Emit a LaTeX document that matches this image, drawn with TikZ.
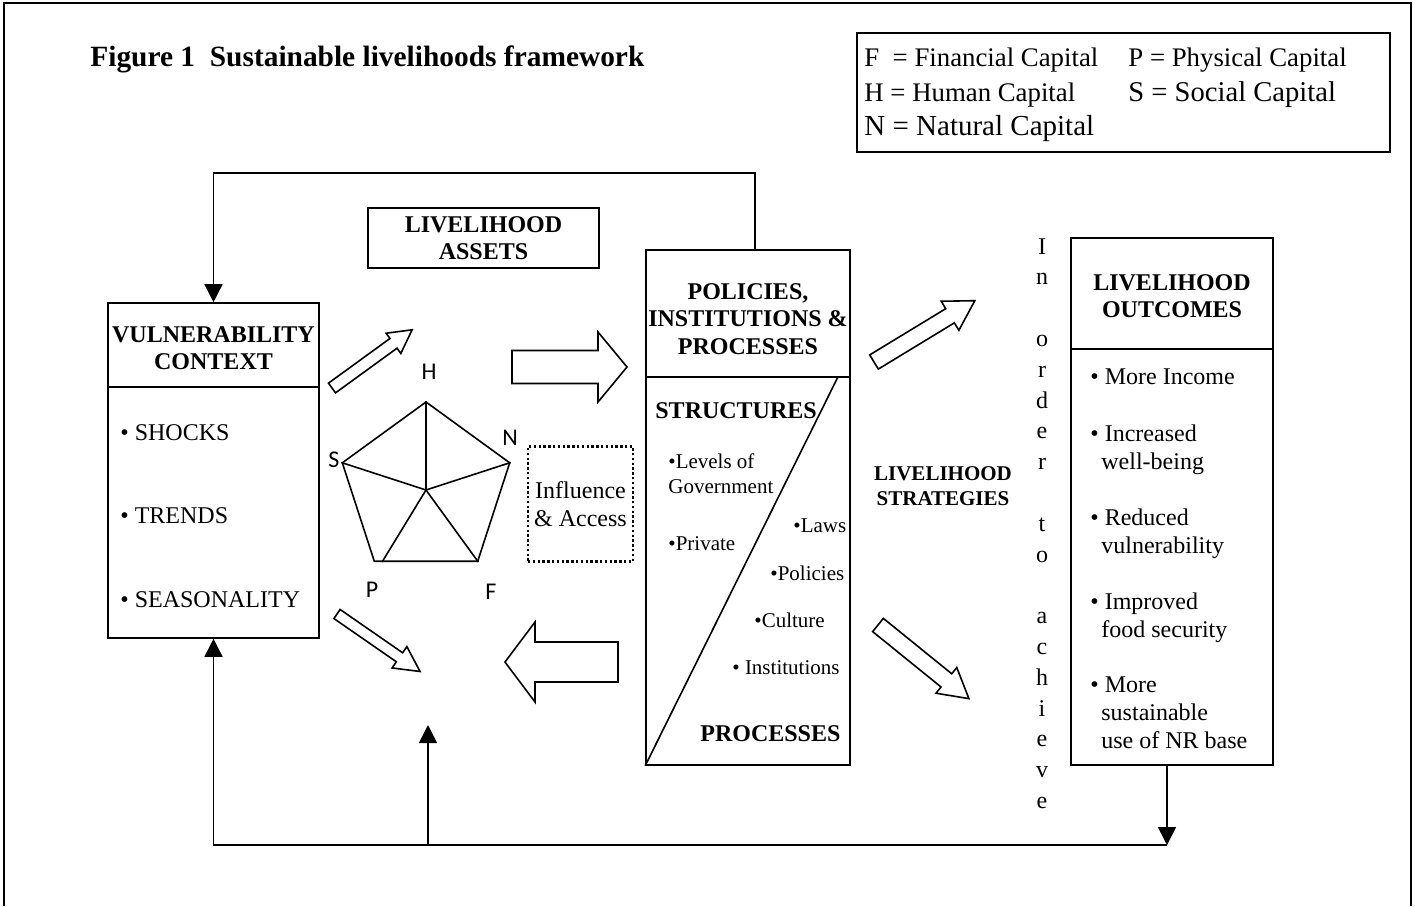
\documentclass[tikz,border=0pt]{standalone}
\usepackage{fontspec}
\setmainfont{Liberation Serif}
\setsansfont{Carlito}
\usetikzlibrary{shapes.geometric,arrows.meta,calc}
% hollow block arrow: tail, angle, length, half shaft, half head, head length
\newcommand{\fatarrow}[6]{%
  \draw[hollow,shift={#1},rotate=#2] (0,-#4) -- ({#3-#6},-#4) -- ({#3-#6},-#5)
    -- (#3,0) -- ({#3-#6},#5) -- ({#3-#6},#4) -- (0,#4) -- cycle;}
\tikzset{
  wire/.style={line width=0.8pt},
  flow/.style={wire,-{Triangle[length=9pt,width=9pt]}},
  box/.style={draw,line width=0.8pt,inner sep=0pt},
  hollow/.style={wire,fill=white,line join=miter},
  hdr/.style={font=\bfseries\fontsize{12}{13.8}\selectfont,align=center,inner sep=0pt},
  txt/.style={font=\fontsize{12}{14}\selectfont,align=left,inner sep=0pt},
  smalltxt/.style={font=\fontsize{10.5}{12.5}\selectfont,align=left,inner sep=0pt},
  legendtxt/.style={font=\fontsize{13.4}{16}\selectfont,anchor=base west,inner sep=0pt},
  asset/.style={font=\sffamily\fontsize{12}{14}\selectfont,inner sep=0pt}
}
\begin{document}
\begin{tikzpicture}[x=0.5pt,y=-0.5pt]
\useasboundingbox (0,0) rectangle (1415,906);
\draw[wire] (4,906) -- (4,3) -- (1411,3) -- (1411,906);

% title and key
\node[anchor=base west,inner sep=0pt,font=\bfseries\fontsize{14.7}{17}\selectfont] (title) at (90,66) {Figure 1\ \ Sustainable livelihoods framework};
\node[box,minimum width=266.5pt,minimum height=59.5pt] (legend) at (1123.5,92.5) {};
\node[legendtxt] (keyF) at (864,66) {F~ = Financial Capital};
\node[legendtxt] (keyP) at (1128,66) {P = Physical Capital};
\node[legendtxt] (keyH) at (864,101) {H = Human Capital};
\node[legendtxt,font=\fontsize{14.3}{16}\selectfont] (keyS) at (1128,101) {S = Social Capital};
\node[legendtxt,font=\fontsize{14.5}{16}\selectfont] (keyN) at (864,135) {N = Natural Capital};

% vulnerability context
\node[box,minimum width=105.5pt,minimum height=167.5pt] (vuln) at (213.5,470.5) {};
\draw[wire] ([yshift=-42.5pt]vuln.north west) -- ([yshift=-42.5pt]vuln.north east);
\node[hdr] (vulnhdr) at (213.5,348) {VULNERABILITY\\CONTEXT};
\node[txt,anchor=base west] (shocks) at (120,440) {\textbullet\ SHOCKS};
\node[txt,anchor=base west] (trends) at (120,523) {\textbullet\ TRENDS};
\node[txt,anchor=base west] (season) at (120,607) {\textbullet\ SEASONALITY};

% livelihood assets
\node[box,hdr,minimum width=115.5pt,minimum height=30pt] (assets) at (483.5,238) {LIVELIHOOD\\ASSETS};
\node[regular polygon,regular polygon sides=5,draw,line width=0.8pt,inner sep=0pt,minimum size=88pt] (pent) at (426,490) {};
\foreach \c in {1,2,4,5}
  \draw[wire] (pent.center) -- (pent.corner \c);
\draw[wire] (pent.center) -- ($(pent.corner 3)!0.08!(pent.corner 4)$);
\node[asset] (labH) at (429,372) {H};
\node[asset] (labS) at (334,460) {S};
\node[asset] (labN) at (510,438) {N};
\node[asset] (labP) at (372,590) {P};
\node[asset] (labF) at (491,592) {F};
\node[draw,line width=1.1pt,dash pattern=on 1.2pt off 1.2pt,txt,align=center,minimum width=52.5pt,minimum height=57.5pt] (influence) at (580.5,504) {Influence\\\& Access};

% policies, institutions and processes
\node[box,minimum width=102pt,minimum height=257.5pt] (pip) at (748,507.5) {};
\draw[wire] ([yshift=-64pt]pip.north west) -- ([yshift=-64pt]pip.north east);
\draw[wire] ([yshift=-64pt,xshift=-6.5pt]pip.north east) -- (pip.south west);
\node[hdr] (piphdr) at (748,319) {POLICIES,\\INSTITUTIONS \&\\PROCESSES};
\node[hdr,anchor=base west] (structures) at (655,418) {STRUCTURES};
\node[smalltxt,anchor=north west] (levels) at (668,453) {\textbullet Levels of\\Government};
\node[smalltxt,anchor=base west] (private) at (668,550) {\textbullet Private};
\node[smalltxt,anchor=base west] (laws) at (793,532) {\textbullet Laws};
\node[smalltxt,anchor=base west] (policies) at (770,580) {\textbullet Policies};
\node[smalltxt,anchor=base west] (culture) at (754,627) {\textbullet Culture};
\node[smalltxt,anchor=base west] (institutions) at (732,674) {\textbullet\ Institutions};
\node[hdr,anchor=base west] (processes) at (700,741) {PROCESSES};

% strategies
\node[hdr,font=\bfseries\fontsize{10.5}{12.5}\selectfont] (strategies) at (943,486) {LIVELIHOOD\\STRATEGIES};
\node[txt,align=center,font=\fontsize{12}{15.4}\selectfont,anchor=north] (inorder) at (1042,238)
  {I\\n\\[15.4pt]o\\r\\d\\e\\r\\[15.4pt]t\\o\\[15.4pt]a\\c\\h\\i\\e\\v\\e};

% livelihood outcomes
\node[box,minimum width=101pt,minimum height=263.5pt] (outc) at (1172,501.5) {};
\draw[wire] ([yshift=-56pt]outc.north west) -- ([yshift=-56pt]outc.north east);
\node[hdr] (outchdr) at (1172,296) {LIVELIHOOD\\OUTCOMES};
\node[txt,anchor=north west] (income) at (1090,368) {\textbullet\ More Income};
\node[txt,anchor=north west] (wellbeing) at (1090,424) {\textbullet\ Increased\\\hspace*{5.5pt}well-being};
\node[txt,anchor=north west] (reduced) at (1090,508) {\textbullet\ Reduced\\\hspace*{5.5pt}vulnerability};
\node[txt,anchor=north west] (improved) at (1090,592) {\textbullet\ Improved\\\hspace*{5.5pt}food security};
\node[txt,anchor=north west] (sustain) at (1090,676) {\textbullet\ More\\\hspace*{5.5pt}sustainable\\\hspace*{5.5pt}use of NR base};

% block arrows
\fatarrow{(332,388)}{36}{99}{6}{12.5}{23}
\fatarrow{(512,367)}{0}{115}{16.5}{35}{29}
\fatarrow{(337,614)}{-34.7}{101}{5.5}{13}{25}
\fatarrow{(618,662)}{180}{113}{20}{40}{30}
\fatarrow{(874,362)}{31.3}{118}{8.3}{17}{29}
\fatarrow{(878,625)}{-39}{117}{8.5}{16.5}{29}

% feedback loops
\coordinate (topy) at (0,173);
\coordinate (boty) at (0,845);
\coordinate (assetin) at (428,725);
\draw[flow] ([xshift=3.5pt]pip.north) |- (vuln.north |- topy) -- (vuln.north);
\draw[flow] ([xshift=-2.5pt]outc.south) -- ([xshift=-2.5pt]outc.south |- boty);
\draw[flow] ([xshift=-2.5pt]outc.south |- boty) -- (vuln.south |- boty) -- (vuln.south);
\draw[flow] (assetin |- boty) -- (assetin);
\end{tikzpicture}
\end{document}
